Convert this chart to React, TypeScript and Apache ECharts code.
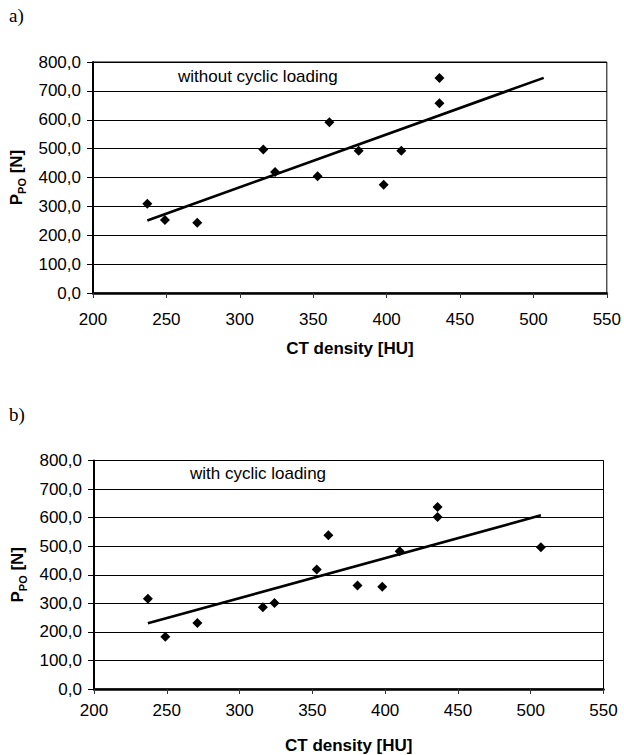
import React, { useEffect, useRef } from "react";
import * as echarts from "echarts";

// ---- data ----
const ctA = [237, 249, 271, 316, 324, 353, 361, 381, 398, 410, 436, 436];
const pA = [309, 253, 243, 497, 419, 404, 591, 493, 375, 493, 745, 657];
const trendAx = [237, 507];
const trendAy = [251, 745];

const ctB = [237, 249, 271, 316, 324, 353, 361, 381, 398, 410, 436, 436, 507];
const pB = [316, 183, 231, 286, 301, 418, 538, 362, 358, 482, 637, 602, 496];
const trendBx = [237, 507];
const trendBy = [230, 608];

const xMin = 200;
const xMax = 550;
const xStep = 50;
const yMin = 0;
const yMax = 800;
const yStep = 100;

const panelLabels = ["a)", "b)"];
const notes = ["without cyclic loading", "with cyclic loading"];
const xName = "CT density [HU]";

const SANS = "'Liberation Sans', Arial, sans-serif";
const SERIF = "'Liberation Serif', 'Times New Roman', serif";

const pairs = (xs: number[], ys: number[]) => xs.map((x, i) => [x, ys[i]]);

function makeX(gridIndex: number, labelMargin: number, nameGap: number) {
  return {
    type: "value" as const,
    gridIndex,
    min: xMin,
    max: xMax,
    interval: xStep,
    name: xName,
    nameLocation: "middle" as const,
    nameGap,
    nameTextStyle: { fontFamily: SANS, fontSize: 17, fontWeight: "bold" as const, color: "#000" },
    axisLine: { show: true, onZero: false, lineStyle: { color: "#000", width: 2.5 } },
    axisTick: { show: true, inside: false, length: 5, lineStyle: { color: "#333", width: 1 } },
    axisLabel: { fontFamily: SANS, fontSize: 17, color: "#000", margin: labelMargin },
    splitLine: { show: false },
  };
}

function makeY(gridIndex: number) {
  return {
    type: "value" as const,
    gridIndex,
    min: yMin,
    max: yMax,
    interval: yStep,
    name: "{p|P}{s|PO}{p| [N]}",
    nameLocation: "middle" as const,
    nameRotate: 90,
    nameGap: 62,
    nameTextStyle: {
      color: "#000",
      rich: {
        p: { fontFamily: SANS, fontSize: 17, fontWeight: "bold", color: "#000", lineHeight: 22 },
        s: {
          fontFamily: SANS,
          fontSize: 11,
          fontWeight: "bold",
          color: "#000",
          lineHeight: 12,
          verticalAlign: "bottom",
        },
      },
    },
    axisLine: { show: true, onZero: false, lineStyle: { color: "#000", width: 2 } },
    axisTick: { show: true, inside: false, length: 6, lineStyle: { color: "#000", width: 1 } },
    axisLabel: {
      fontFamily: SANS,
      fontSize: 17,
      color: "#000",
      margin: 12,
      formatter: (v: number) => v.toFixed(1).replace(".", ","),
    },
    splitLine: { show: true, lineStyle: { color: "#000", width: 1 } },
  };
}

export default function App() {
  const ref = useRef<HTMLDivElement>(null);

  useEffect(() => {
    if (!ref.current) return;
    const chart = echarts.init(ref.current, undefined, { renderer: "svg" });

    const scatterStyle = {
      type: "scatter" as const,
      symbol: "diamond",
      symbolSize: 10,
      itemStyle: { color: "#000", opacity: 1 },
      silent: true,
      z: 4,
    };
    const lineStyle = {
      type: "line" as const,
      showSymbol: false,
      symbol: "none",
      lineStyle: { color: "#000", width: 2.6 },
      silent: true,
      z: 3,
    };

    chart.setOption({
      animation: false,
      backgroundColor: "#fff",
      grid: [
        {
          left: 93,
          top: 62,
          right: 17,
          bottom: 462,
          show: true,
          borderColor: "#000",
          borderWidth: 1,
          backgroundColor: "transparent",
        },
        {
          left: 94,
          top: 460.5,
          right: 20.5,
          bottom: 65.5,
          show: true,
          borderColor: "#000",
          borderWidth: 1,
          backgroundColor: "transparent",
        },
      ],
      xAxis: [makeX(0, 18, 47), makeX(1, 13, 48)],
      yAxis: [makeY(0), makeY(1)],
      series: [
        { ...scatterStyle, name: "a", xAxisIndex: 0, yAxisIndex: 0, data: pairs(ctA, pA) },
        { ...lineStyle, name: "a trend", xAxisIndex: 0, yAxisIndex: 0, data: pairs(trendAx, trendAy) },
        { ...scatterStyle, name: "b", xAxisIndex: 1, yAxisIndex: 1, data: pairs(ctB, pB) },
        { ...lineStyle, name: "b trend", xAxisIndex: 1, yAxisIndex: 1, data: pairs(trendBx, trendBy) },
      ],
      graphic: [
        {
          type: "text",
          x: 9,
          y: 25,
          style: { text: panelLabels[0], fontFamily: SERIF, fontSize: 19, fill: "#000", verticalAlign: "bottom" },
        },
        {
          type: "text",
          x: 9,
          y: 424,
          style: { text: panelLabels[1], fontFamily: SERIF, fontSize: 19, fill: "#000", verticalAlign: "bottom" },
        },
        {
          type: "text",
          x: 178,
          y: 76,
          style: { text: notes[0], fontFamily: SANS, fontSize: 17, fill: "#000", verticalAlign: "middle" },
        },
        {
          type: "text",
          x: 190,
          y: 473,
          style: { text: notes[1], fontFamily: SANS, fontSize: 17, fill: "#000", verticalAlign: "middle" },
        },
      ],
    });

    return () => chart.dispose();
  }, []);

  return (
    <div
      ref={ref}
      style={{ position: "absolute", left: 0, top: 0, width: 624, height: 755, background: "#fff" }}
    />
  );
}
